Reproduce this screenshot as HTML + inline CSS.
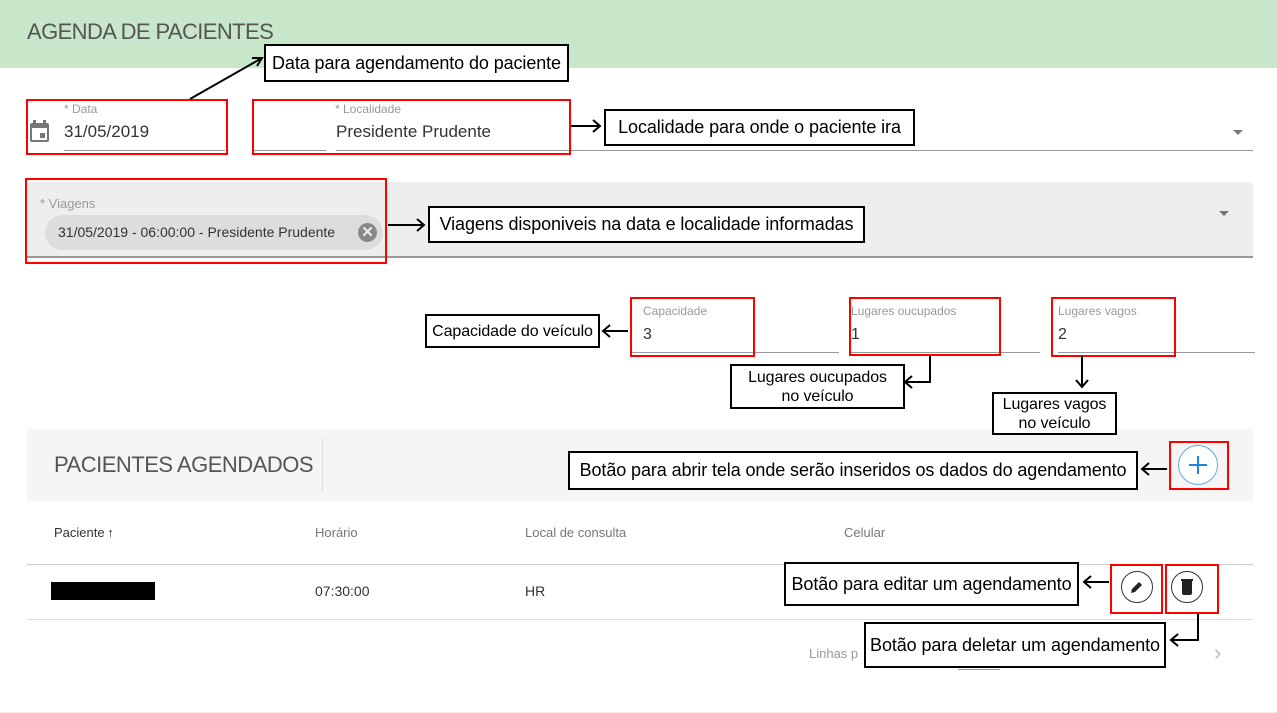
<!DOCTYPE html>
<html><head><meta charset="utf-8"><style>
*{margin:0;padding:0;box-sizing:border-box}
body{width:1277px;height:713px;position:relative;background:#fff;font-family:"Liberation Sans",Arial,sans-serif;overflow:hidden}
.a{position:absolute}
.t{position:absolute;white-space:nowrap}
.ann{position:absolute;border:2px solid #000;background:#fff;color:#000;font-size:18px;display:flex;align-items:center;justify-content:center;text-align:center;line-height:19px;white-space:nowrap;letter-spacing:-0.1px}
.red{position:absolute;border:2px solid #f00}
.lbl{position:absolute;font-size:12px;color:#999;white-space:nowrap}
.val{position:absolute;font-size:16px;color:#333;white-space:nowrap}
.hr{position:absolute;height:1px;background:#999}
.th{position:absolute;font-size:13px;color:#777;white-space:nowrap}
</style></head><body>
<div class="a" style="left:0;top:0;width:1277px;height:68px;background:#c8e6c9"></div>
<div class="t" style="left:27px;top:19px;font-size:22px;color:#555;letter-spacing:-0.6px">AGENDA DE PACIENTES</div>

<svg class="a" style="left:29px;top:120px" width="22" height="24" viewBox="0 0 22 24"><rect x="1" y="3" width="19" height="19" rx="2" fill="#777"/><rect x="3" y="8" width="15" height="12" fill="#fff"/><rect x="4" y="0" width="3" height="5" fill="#777"/><rect x="14" y="0" width="3" height="5" fill="#777"/><rect x="11" y="13" width="5" height="5" fill="#777"/></svg>
<div class="lbl" style="left:64px;top:102px">* Data</div>
<div class="val" style="left:64px;top:122px;font-size:17px">31/05/2019</div>
<div class="hr" style="left:64px;top:150px;width:161px"></div>
<div class="lbl" style="left:335px;top:102px">* Localidade</div>
<div class="val" style="left:336px;top:122px;font-size:17px">Presidente Prudente</div>
<div class="hr" style="left:252px;top:150px;width:74px"></div>
<div class="hr" style="left:336px;top:150px;width:917px"></div>
<div class="a" style="left:1233px;top:130px;border-left:5px solid transparent;border-right:5px solid transparent;border-top:5px solid #777"></div>

<div class="a" style="left:27px;top:182px;width:1226px;height:76px;background:#eee;border-radius:4px 4px 0 0;border-bottom:2px solid #999"></div>
<div class="lbl" style="left:40px;top:196px;font-size:13px">* Viagens</div>
<div class="a" style="left:45px;top:215px;width:338px;height:35px;border-radius:18px;background:#ddd"></div>
<div class="t" style="left:58px;top:224px;font-size:14px;color:#333">31/05/2019 - 06:00:00 - Presidente Prudente</div>
<div class="a" style="left:358px;top:223px;width:19px;height:19px;border-radius:50%;background:#888;color:#eee;font-size:15px;line-height:19px;text-align:center;font-weight:bold">✕</div>
<div class="a" style="left:1219px;top:211px;border-left:5px solid transparent;border-right:5px solid transparent;border-top:5px solid #777"></div>

<div class="lbl" style="left:643px;top:304px">Capacidade</div>
<div class="val" style="left:643px;top:326px">3</div>
<div class="lbl" style="left:851px;top:304px">Lugares oucupados</div>
<div class="val" style="left:851px;top:326px">1</div>
<div class="lbl" style="left:1058px;top:304px">Lugares vagos</div>
<div class="val" style="left:1058px;top:326px">2</div>
<div class="hr" style="left:630px;top:352px;width:209px"></div>
<div class="hr" style="left:850px;top:352px;width:190px"></div>
<div class="hr" style="left:1058px;top:352px;width:197px"></div>

<div class="a" style="left:27px;top:429px;width:1226px;height:72px;background:#f5f5f5"></div>
<div class="a" style="left:322px;top:438px;width:1px;height:54px;background:#ddd"></div>
<div class="t" style="left:54px;top:452px;font-size:22px;color:#555;letter-spacing:-0.5px">PACIENTES AGENDADOS</div>
<div class="a" style="left:1178px;top:445px;width:40px;height:40px;border-radius:50%;border:1px solid #64a8e0;background:#fff"></div>
<div class="a" style="left:1197px;top:456px;width:2px;height:18px;background:#1e88e5"></div>
<div class="a" style="left:1189px;top:464px;width:18px;height:2px;background:#1e88e5"></div>

<div class="th" style="left:54px;top:525px;color:#333">Paciente&thinsp;↑</div>
<div class="th" style="left:315px;top:525px">Horário</div>
<div class="th" style="left:525px;top:525px">Local de consulta</div>
<div class="th" style="left:844px;top:525px">Celular</div>
<div class="a" style="left:27px;top:564px;width:1226px;height:1px;background:#ccc"></div>
<div class="a" style="left:51px;top:582px;width:104px;height:18px;background:#000"></div>
<div class="t" style="left:315px;top:583px;font-size:14px;color:#333">07:30:00</div>
<div class="t" style="left:525px;top:583px;font-size:14px;color:#333">HR</div>
<div class="a" style="left:27px;top:619px;width:1226px;height:1px;background:#ddd"></div>
<div class="a" style="left:1121px;top:571px;width:32px;height:32px;border-radius:50%;border:1px solid #333"></div>
<svg class="a" style="left:1129px;top:579px" width="16" height="16"><path d="M2 14 L3 10 L10 3 L13 6 L6 13 Z" fill="#222"/></svg>
<div class="a" style="left:1171px;top:571px;width:32px;height:32px;border-radius:50%;border:1px solid #333"></div>
<div class="a" style="left:1182px;top:581px;width:10px;height:14px;background:#222;border-radius:0 0 2px 2px"></div>
<div class="a" style="left:1181px;top:579px;width:12px;height:2px;background:#222"></div>
<div class="t" style="left:809px;top:646px;font-size:13px;color:#999">Linhas p</div>
<div class="t" style="left:1214px;top:640px;font-size:22px;color:#bbb">›</div>
<div class="a" style="left:958px;top:669px;width:42px;height:1px;background:#999"></div>
<div class="a" style="left:0;top:712px;width:1277px;height:1px;background:#eee"></div>

<div class="red" style="left:26px;top:99px;width:202px;height:56px"></div>
<div class="red" style="left:252px;top:99px;width:319px;height:56px"></div>
<div class="red" style="left:25px;top:178px;width:362px;height:86px"></div>
<div class="red" style="left:630px;top:297px;width:125px;height:60px"></div>
<div class="red" style="left:849px;top:297px;width:152px;height:59px"></div>
<div class="red" style="left:1051px;top:297px;width:125px;height:60px"></div>
<div class="red" style="left:1169px;top:441px;width:60px;height:49px"></div>
<div class="red" style="left:1110px;top:564px;width:53px;height:50px"></div>
<div class="red" style="left:1165px;top:564px;width:54px;height:50px"></div>

<svg class="a" style="left:0;top:0" width="1277" height="713" fill="none" stroke="#000" stroke-width="2">
<path d="M190 99 L262 58"/><path d="M252 58 L262 58 L257 66"/>
<path d="M571 126 L600 126"/><path d="M593 120 L600 126 L593 132"/>
<path d="M388 225 L424 225"/><path d="M417 219 L424 225 L417 231"/>
<path d="M628 331 L603 331"/><path d="M610 325 L603 331 L610 337"/>
<path d="M930 356 L930 382 L905 382"/><path d="M912 376 L905 382 L912 388"/>
<path d="M1082 356 L1082 387"/><path d="M1076 380 L1082 387 L1088 380"/>
<path d="M1167 469 L1142 469"/><path d="M1149 463 L1142 469 L1149 475"/>
<path d="M1109 582 L1084 582"/><path d="M1091 576 L1084 582 L1091 588"/>
<path d="M1198 614 L1198 640 L1171 640"/><path d="M1178 634 L1171 640 L1178 646"/>
</svg>

<div class="ann" style="left:264px;top:44px;width:305px;height:38px">Data para agendamento do paciente</div>
<div class="ann" style="left:604px;top:109px;width:311px;height:37px">Localidade para onde o paciente ira</div>
<div class="ann" style="left:428px;top:206px;width:437px;height:37px">Viagens disponiveis na data e localidade informadas</div>
<div class="ann" style="left:425px;top:314px;width:175px;height:34px;font-size:16px">Capacidade do veículo</div>
<div class="ann" style="left:730px;top:364px;width:175px;height:45px;font-size:16px">Lugares oucupados<br>no veículo</div>
<div class="ann" style="left:992px;top:392px;width:125px;height:43px;font-size:16px">Lugares vagos<br>no veículo</div>
<div class="ann" style="left:568px;top:451px;width:570px;height:39px">Botão para abrir tela onde serão inseridos os dados do agendamento</div>
<div class="ann" style="left:784px;top:562px;width:295px;height:44px">Botão para editar um agendamento</div>
<div class="ann" style="left:864px;top:622px;width:302px;height:46px">Botão para deletar um agendamento</div>
</body></html>
